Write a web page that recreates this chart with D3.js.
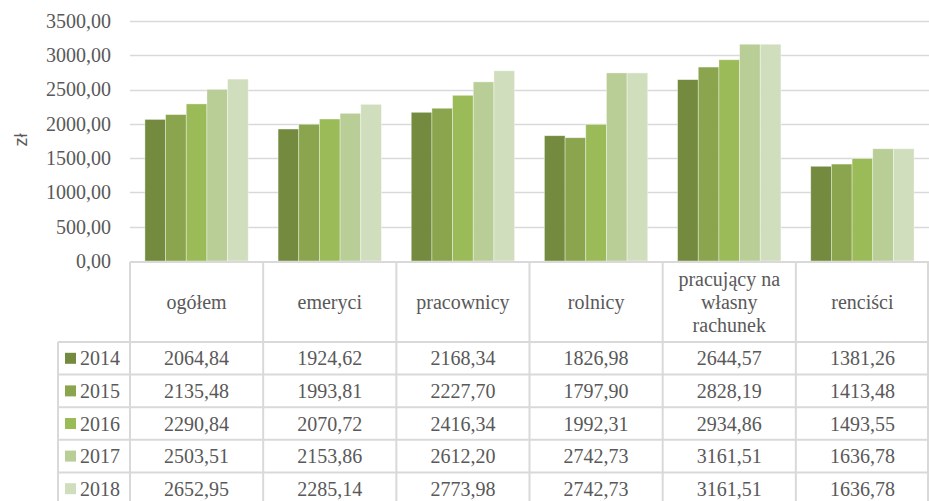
<!DOCTYPE html>
<html>
<head>
<meta charset="utf-8">
<script src="https://cdn.jsdelivr.net/npm/d3@7"></script>
<style>
  body { margin: 0; background: #fff; }
  svg { display: block; }
  .serif { font-family: "Liberation Serif", Tinos, "Times New Roman", "DejaVu Serif", serif; }
</style>
</head>
<body>
<div id="chart"></div>
<script>
// categories and series
var categories = ["ogółem", "emeryci", "pracownicy", "rolnicy", "pracujący na własny rachunek", "renciści"];
var headerLines = [["ogółem"], ["emeryci"], ["pracownicy"], ["rolnicy"], ["pracujący na", "własny", "rachunek"], ["renciści"]];
var years = ["2014", "2015", "2016", "2017", "2018"];
var v2014 = [2064.84, 1924.62, 2168.34, 1826.98, 2644.57, 1381.26];
var v2015 = [2135.48, 1993.81, 2227.70, 1797.90, 2828.19, 1413.48];
var v2016 = [2290.84, 2070.72, 2416.34, 1992.31, 2934.86, 1493.55];
var v2017 = [2503.51, 2153.86, 2612.20, 2742.73, 3161.51, 1636.78];
var v2018 = [2652.95, 2285.14, 2773.98, 2742.73, 3161.51, 1636.78];
var yTicks = [0, 500, 1000, 1500, 2000, 2500, 3000, 3500];
var colors = ["#738a3f", "#8aa54d", "#9bbb59", "#b9ce96", "#d1debd"];

var series = [v2014, v2015, v2016, v2017, v2018];

var width = 929, height = 501;
var plot = { left: 130, right: 929, top: 21, bottom: 261 };
var table = { legendLeft: 58, headerTop: 262, headerBottom: 342, rowH: 32.6 };

var textColor = "#595959";
var lineColor = "#d9d9d9";

var loc = d3.formatLocale({ decimal: ",", thousands: "", grouping: [3], currency: ["", " zł"] });
var fmt = loc.format(".2f");

var svg = d3.select("#chart").append("svg")
  .attr("width", width)
  .attr("height", height);

// scales
var x = d3.scaleBand().domain(categories).range([plot.left, plot.right])
  .paddingInner(0.224).paddingOuter(0.112);
var xCol = d3.scaleBand().domain(categories).range([plot.left, plot.right]);
var xYear = d3.scaleBand().domain(years).range([0, x.bandwidth()]);
var y = d3.scaleLinear().domain([0, 3500]).range([plot.bottom, plot.top]);

// gridlines
svg.append("g").selectAll("line").data(yTicks.slice(1)).enter().append("line")
  .attr("x1", plot.left).attr("x2", plot.right)
  .attr("y1", function(d) { return Math.round(y(d)) + 0.5; })
  .attr("y2", function(d) { return Math.round(y(d)) + 0.5; })
  .attr("stroke", lineColor).attr("stroke-width", 1.5);

// y axis labels
var yAxis = d3.axisLeft(y).tickValues(yTicks).tickFormat(fmt).tickSize(0).tickPadding(0);
var yG = svg.append("g").attr("transform", "translate(111,0)").call(yAxis)
  .attr("font-family", null).attr("font-size", null);
yG.select(".domain").remove();
yG.selectAll("text")
  .attr("class", "serif")
  .attr("fill", textColor)
  .style("font-size", "20px");

// axis title
svg.append("text")
  .attr("transform", "translate(27,140) rotate(-90)")
  .attr("text-anchor", "middle")
  .attr("fill", textColor)
  .style("font-family", "'Liberation Sans', Arial, sans-serif")
  .style("font-size", "18px")
  .text("zł");

// bars
var groups = svg.append("g").selectAll("g").data(series).enter().append("g")
  .attr("fill", function(d, i) { return colors[i]; });

groups.each(function(vals, si) {
  d3.select(this).selectAll("rect").data(vals).enter().append("rect")
    .attr("x", function(d, ci) { return x(categories[ci]) + xYear(years[si]); })
    .attr("width", xYear.bandwidth())
    .attr("y", function(d) { return y(d); })
    .attr("height", function(d) { return y(0) - y(d); })
    .attr("stroke", "#ffffff")
    .attr("stroke-opacity", 0.5)
    .attr("stroke-width", 0.75);
});

// data table
var tableBottom = table.headerBottom + table.rowH * years.length;
var tg = svg.append("g");

// horizontal lines
tg.append("line")
  .attr("x1", plot.left).attr("x2", plot.right)
  .attr("y1", table.headerTop).attr("y2", table.headerTop)
  .attr("stroke", lineColor).attr("stroke-width", 2);
tg.selectAll("line.row").data(d3.range(years.length + 1)).enter().append("line")
  .attr("class", "row")
  .attr("x1", table.legendLeft).attr("x2", plot.right)
  .attr("y1", function(i) { return table.headerBottom + i * table.rowH; })
  .attr("y2", function(i) { return table.headerBottom + i * table.rowH; })
  .attr("stroke", lineColor).attr("stroke-width", 2);

// vertical lines
var colEdges = categories.map(function(c) { return xCol(c); }).concat([plot.right - 1]);
tg.selectAll("line.col").data(colEdges).enter().append("line")
  .attr("class", "col")
  .attr("x1", function(d) { return d; }).attr("x2", function(d) { return d; })
  .attr("y1", table.headerTop).attr("y2", tableBottom)
  .attr("stroke", lineColor).attr("stroke-width", 2);
tg.append("line")
  .attr("x1", table.legendLeft).attr("x2", table.legendLeft)
  .attr("y1", table.headerBottom).attr("y2", tableBottom)
  .attr("stroke", lineColor).attr("stroke-width", 2);

// header labels
var lineH = 23;
tg.selectAll("text.head").data(headerLines).enter().append("text")
  .attr("class", "head serif")
  .attr("text-anchor", "middle")
  .attr("fill", textColor)
  .style("font-size", "20px")
  .each(function(lines, i) {
    var cx = xCol(categories[i]) + xCol.bandwidth() / 2;
    var cy = (table.headerTop + table.headerBottom) / 2;
    var t = d3.select(this);
    lines.forEach(function(l, k) {
      t.append("tspan")
        .attr("x", cx)
        .attr("y", cy + (k - (lines.length - 1) / 2) * lineH)
        .attr("dy", "0.35em")
        .text(l);
    });
  });

// rows
years.forEach(function(yr, si) {
  var cy = table.headerBottom + (si + 0.5) * table.rowH;
  tg.append("rect")
    .attr("x", 65).attr("y", cy - 5.5)
    .attr("width", 11).attr("height", 11)
    .attr("fill", colors[si]);
  tg.append("text")
    .attr("class", "serif")
    .attr("x", 80).attr("y", cy).attr("dy", "0.35em")
    .attr("fill", textColor)
    .style("font-size", "20px")
    .text(yr);
  tg.selectAll(null).data(series[si]).enter().append("text")
    .attr("class", "serif")
    .attr("x", function(d, ci) { return xCol(categories[ci]) + xCol.bandwidth() / 2; })
    .attr("y", cy).attr("dy", "0.35em")
    .attr("text-anchor", "middle")
    .attr("fill", textColor)
    .style("font-size", "20px")
    .text(function(d) { return fmt(d); });
});
</script>
</body>
</html>
